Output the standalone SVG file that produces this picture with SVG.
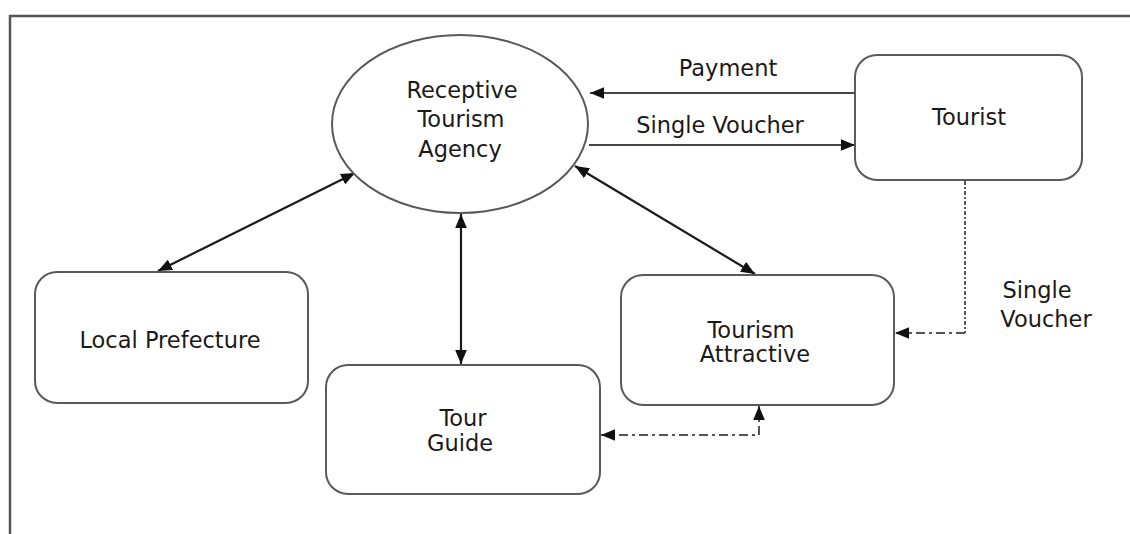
<svg xmlns="http://www.w3.org/2000/svg" width="1130" height="534" viewBox="0 0 1130 534">
<style>
.node{fill:#fff;stroke:#5a5a5a;stroke-width:2}
.t{font-family:"DejaVu Sans",Verdana,sans-serif;font-size:22.5px;fill:#1a1a1a;text-anchor:middle}
.solid{fill:none;stroke:#1a1a1a;stroke-width:2.2}
.flow{fill:none;stroke:#444;stroke-width:2}
.dd{fill:none;stroke:#555;stroke-width:2;stroke-dasharray:9,4,3,4}
.dot{fill:none;stroke:#555;stroke-width:2;stroke-dasharray:4,2,2,2}
</style>
<defs>
<marker id="ah" viewBox="0 0 12 10" refX="12" refY="5" markerWidth="14" markerHeight="12" markerUnits="userSpaceOnUse" orient="auto-start-reverse">
<path d="M0,0 L12,5 L0,10 z" fill="#111"/>
</marker>
</defs>
<rect width="1130" height="534" fill="#fff"/>
<g id="frame">
<path d="M10,534 V16 H1130" fill="none" stroke="#555" stroke-width="2.5"/>
</g>
<g id="connectors">
<line class="flow" x1="855" y1="93" x2="590" y2="93" marker-end="url(#ah)"/>
<line class="flow" x1="589" y1="145" x2="855" y2="145" marker-end="url(#ah)"/>
<line class="solid" x1="355" y1="173" x2="158" y2="271" marker-start="url(#ah)" marker-end="url(#ah)"/>
<line class="solid" x1="461" y1="214" x2="461" y2="364" marker-start="url(#ah)" marker-end="url(#ah)"/>
<line class="solid" x1="575" y1="166" x2="755" y2="274" marker-start="url(#ah)" marker-end="url(#ah)"/>
<path class="dot" d="M965,181 V333"/>
<path class="dd" d="M965,333 H895" marker-end="url(#ah)"/>
<path class="dd" d="M759,406 V435 H601" marker-start="url(#ah)" marker-end="url(#ah)"/>
<text class="t" x="728" y="76">Payment</text>
<text class="t" x="720" y="133">Single Voucher</text>
<text class="t" x="1037" y="298">Single</text>
<text class="t" x="1046" y="327">Voucher</text>
</g>
<g id="agency">
<ellipse class="node" cx="460" cy="124" rx="128" ry="89"/>
<text class="t" x="462" y="98">Receptive</text>
<text class="t" x="461" y="127">Tourism</text>
<text class="t" x="460" y="157">Agency</text>
</g>
<g id="tourist">
<rect class="node" x="855" y="55" width="227" height="125" rx="22"/>
<text class="t" x="969" y="125">Tourist</text>
</g>
<g id="prefecture">
<rect class="node" x="35" y="272" width="273" height="131" rx="22"/>
<text class="t" x="170" y="348">Local Prefecture</text>
</g>
<g id="guide">
<rect class="node" x="326" y="365" width="274" height="129" rx="22"/>
<text class="t" x="463" y="426">Tour</text>
<text class="t" x="460" y="451">Guide</text>
</g>
<g id="attractive">
<rect class="node" x="621" y="275" width="273" height="130" rx="22"/>
<text class="t" x="751" y="338">Tourism</text>
<text class="t" x="755" y="362">Attractive</text>
</g>
</svg>
